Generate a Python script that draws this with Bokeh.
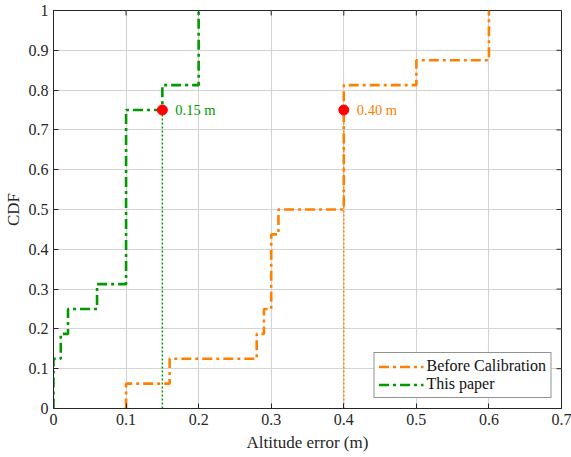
import math
from bokeh.plotting import figure
from bokeh.models import Legend, LegendItem, FixedTicker, ColumnDataSource
from bokeh.core.properties import value
from bokeh.embed import file_html
from bokeh.resources import INLINE

before_x = [0.1, 0.1, 0.16, 0.28, 0.29, 0.30, 0.31, 0.40, 0.50, 0.60]
before_cdf = [0.0, 0.0625, 0.125, 0.1875, 0.25, 0.4375, 0.5, 0.8125, 0.875, 1.0]
paper_x = [0.0, 0.0, 0.01, 0.02, 0.06, 0.10, 0.15, 0.20]
paper_cdf = [0.0, 0.125, 0.1875, 0.25, 0.3125, 0.75, 0.8125, 1.0]
marker_x = [0.15, 0.40]
marker_y = [0.75, 0.75]
marker_labels = ["0.15 m", "0.40 m"]
x_ticks = [0, 0.1, 0.2, 0.3, 0.4, 0.5, 0.6, 0.7]
y_ticks = [0, 0.1, 0.2, 0.3, 0.4, 0.5, 0.6, 0.7, 0.8, 0.9, 1.0]
x_tick_labels = ["0", "0.1", "0.2", "0.3", "0.4", "0.5", "0.6", "0.7"]
y_tick_labels = ["0", "0.1", "0.2", "0.3", "0.4", "0.5", "0.6", "0.7", "0.8", "0.9", "1"]

ORANGE = "#ff8000"
GREEN = "#009900"
FONT = "Liberation Serif"
AXC = "#262626"

p = figure(width=571, height=457, x_range=(0, 0.7), y_range=(0, 1),
           output_backend="svg", toolbar_location=None,
           min_border_left=53, min_border_right=10, min_border_top=10, min_border_bottom=49)
p.background_fill_color = "white"
p.outline_line_color = AXC
p.outline_line_width = 1

# grid
for g in (p.xgrid, p.ygrid):
    g.grid_line_color = "#d4d4d4"
    g.grid_line_width = 1.1
p.xgrid.ticker = FixedTicker(ticks=x_ticks)
p.ygrid.ticker = FixedTicker(ticks=y_ticks)

# axes
def style_axis(ax, ticks, labels):
    ax.ticker = FixedTicker(ticks=ticks)
    ax.major_label_overrides = {t: l for t, l in zip(ticks, labels)}
    ax.major_tick_in = 5
    ax.major_tick_out = 0
    ax.minor_tick_in = 0
    ax.minor_tick_out = 0
    ax.axis_line_color = AXC
    ax.major_tick_line_color = AXC
    ax.major_label_text_font = FONT
    ax.major_label_text_color = AXC
    ax.major_label_text_font_size = "16px"
    ax.major_label_standoff = 5
    ax.axis_label_text_font = FONT
    ax.axis_label_text_font_style = "normal"
    ax.axis_label_text_font_size = "17px"
    ax.axis_label_text_color = AXC

style_axis(p.xaxis[0], x_ticks, x_tick_labels)
style_axis(p.yaxis[0], y_ticks, y_tick_labels)
p.xaxis[0].axis_label = "Altitude error (m)"
p.yaxis[0].axis_label = "CDF"
p.xaxis[0].axis_label_standoff = 5
p.yaxis[0].axis_label_standoff = 3

# inward ticks on the top and right edges of the box
p.scatter(x_ticks, [1.0] * len(x_ticks), marker="dash", angle=math.pi / 2, size=10,
          line_color=AXC, line_width=1)
p.scatter([0.7] * len(y_ticks), y_ticks, marker="dash", size=10,
          line_color=AXC, line_width=1)

# dotted guides
for mx, my, c in zip(marker_x, marker_y, [GREEN, ORANGE]):
    p.segment(x0=[mx], y0=[0], x1=[mx], y1=[my], line_color=c, line_width=1.5, line_dash="2 2")

# step lines
r1 = p.step(before_x, before_cdf, mode="after", line_color=ORANGE, line_width=2.6,
            line_dash="10 4 3 4")
r2 = p.step(paper_x, paper_cdf, mode="after", line_color=GREEN, line_width=2.6,
            line_dash="10 4 3 4")

# markers
p.scatter(marker_x, marker_y, size=10, fill_color="#ff0000", line_color="#ff0000")
src = ColumnDataSource(dict(x=marker_x, y=marker_y, t=marker_labels, c=[GREEN, ORANGE]))
p.text(x="x", y="y", text="t", source=src, text_color="c", x_offset=13,
       text_baseline="middle", text_align="left", text_font=value(FONT),
       text_font_size="14.5px")

legend = Legend(items=[LegendItem(label="Before Calibration", renderers=[r1]),
                       LegendItem(label="This paper", renderers=[r2])],
                location="bottom_right")
legend.label_text_font = FONT
legend.label_text_font_size = "16px"
legend.label_text_color = "#111111"
legend.border_line_color = AXC
legend.border_line_width = 1
legend.glyph_width = 45
legend.glyph_height = 17
legend.label_height = 17
legend.label_standoff = 3
legend.spacing = 0
legend.padding = 4
legend.margin = 10
legend.background_fill_color = "white"
legend.background_fill_alpha = 1
p.add_layout(legend)

open("out.html", "w").write(file_html(p, INLINE))
